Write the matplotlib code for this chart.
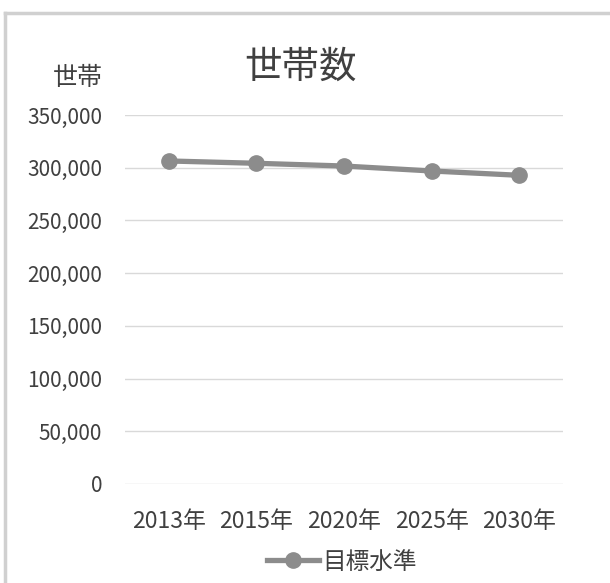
import matplotlib
matplotlib.use("Agg")
import matplotlib.pyplot as plt
from matplotlib.lines import Line2D

plt.rcParams['font.family'] = ['Noto Sans CJK JP', 'DejaVu Sans']

# 世帯数の推移（目標水準）
years = ["2013年", "2015年", "2020年", "2025年", "2030年"]
households = [306400, 304200, 301600, 296900, 292800]
y_ticks = [0, 50000, 100000, 150000, 200000, 250000, 300000, 350000]

text_col = "#404040"
line_col = "#8c8c8c"

fig = plt.figure(figsize=(6.10, 5.83), dpi=100)
ax = fig.add_axes([125 / 610, 1 - 484 / 583, 438 / 610, 369 / 583])

x = list(range(len(years)))
ax.plot(x, households, color=line_col, lw=3.8, marker="o", markersize=11,
        solid_capstyle="round", label="目標水準", zorder=3)

ax.set_xlim(-0.5, len(years) - 0.5)
ax.set_ylim(0, 350000)
ax.set_yticks(y_ticks)
ax.set_yticklabels([f"{v:,}" for v in y_ticks])
ax.set_xticks(x)
ax.set_xticklabels(years)
ax.yaxis.grid(True, color="#d9d9d9", lw=1.0)
ax.set_axisbelow(True)
for s in ax.spines.values():
    s.set_visible(False)
ax.tick_params(axis="both", length=0, colors=text_col)
ax.tick_params(axis="y", pad=16.5, labelsize=15)
ax.tick_params(axis="x", pad=18.5, labelsize=16.5)

fig.text(301 / 610, 1 - 67 / 583, "世帯数", ha="center", va="center",
         fontsize=27, color=text_col)
fig.text(78 / 610, 1 - 78 / 583, "世帯", ha="center", va="center",
         fontsize=18, color=text_col)

leg = fig.legend(handles=[Line2D([0], [0], color=line_col, lw=3.8, marker="o",
                                 markersize=11, label="目標水準")],
                 loc="center", bbox_to_anchor=(342 / 610, 1 - 562 / 583),
                 frameon=False, fontsize=17, handlelength=2.2, handletextpad=0.15)
for t in leg.get_texts():
    t.set_color(text_col)

# chart area frame (top and left edges)
fig.add_artist(Line2D([5 / 610, 1], [1 - 13 / 583, 1 - 13 / 583],
                      transform=fig.transFigure, color="#d0d0d0", lw=2.5))
fig.add_artist(Line2D([5 / 610, 5 / 610], [0, 1 - 13 / 583],
                      transform=fig.transFigure, color="#d0d0d0", lw=2.5))

fig.savefig("out.png", dpi=100)
